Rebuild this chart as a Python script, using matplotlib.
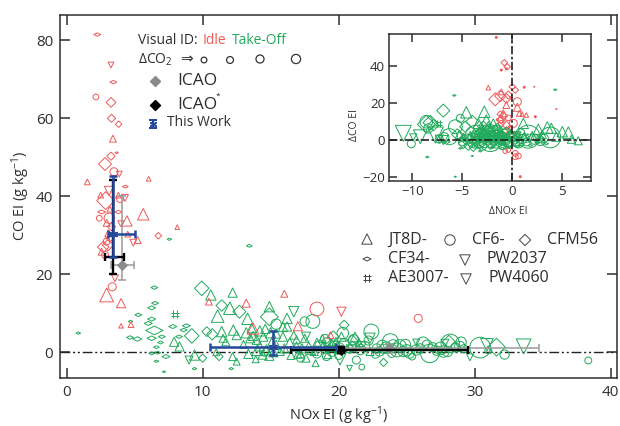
import matplotlib
matplotlib.use("Agg")
import matplotlib.pyplot as plt
from matplotlib.path import Path

plt.rcParams['font.family'] = ['Open Sans', 'DejaVu Sans']
plt.rcParams['mathtext.fontset'] = 'custom'
plt.rcParams['mathtext.rm'] = 'Open Sans'
plt.rcParams['mathtext.default'] = 'rm'

RED = '#ee5a5a'
GREEN = '#22aa5c'
INK = '#2e2e2e'
BLUE = '#25479c'

# -------------------------------
# (1) Main panel, idle (red)
# -------------------------------
red_tri_x = [3.4, 1.52, 6.03, 2.5, 3.8, 5.63, 4.43, 8.13, 3.18, 5.22, 4.49, 2.94, 4.0, 4.0, 4.73, 10.46, 13.2, 16.0, 17.0, 13.7, 19.4, 2.57, 3.06, 2.94]
red_tri_y = [54.8, 43.7, 44.5, 40.3, 40.3, 35.4, 33.7, 32.1, 36.7, 28.8, 30.3, 14.7, 12.6, 6.8, 7.1, 13.0, 12.6, 15.0, 6.7, 6.1, 4.4, 25.8, 30.5, 33.2]
red_tri_d = [6, 5, 4, 5, 5, 10, 9, 4, 5, 6, 5, 12, 8, 4, 5, 6, 7, 6, 8, 10, 6, 6, 6, 6]

red_circ_x = [2.15, 3.48, 2.4, 3.13, 3.92, 3.35, 18.4, 25.85, 2.94, 2.82]
red_circ_y = [65.5, 46.3, 34.4, 34.4, 39.3, 16.8, 11.1, 8.7, 28.4, 25.0]
red_circ_d = [5, 7, 5, 9, 6, 7, 12, 7, 6, 6]

red_dia_x = [3.26, 3.3, 3.82, 2.82, 3.26, 2.87, 6.74, 2.69, 3.04, 3.18, 3.3]
red_dia_y = [64.1, 60.0, 58.5, 48.3, 50.3, 38.9, 29.9, 27.0, 27.5, 29.3, 32.2]
red_dia_d = [6, 5, 4, 8, 5, 11, 4, 7, 7, 5, 5]

red_flat_x = [2.25, 3.43, 4.31, 2.57, 3.8, 3.68]
red_flat_y = [81.5, 69.3, 42.5, 36.0, 36.0, 51.2]
red_flat_d = [6, 6, 5, 7, 6, 3]

red_down_x = [3.26, 3.87, 3.11, 4.29, 3.97, 4.9, 3.55, 20.2]
red_down_y = [73.7, 45.7, 41.4, 39.6, 33.0, 28.1, 19.0, 10.4]
red_down_d = [5, 5, 8, 6, 5, 6, 6, 8]

# -------------------------------
# (2) Main panel, take-off (green)
# -------------------------------
green_tri_x = [10.6, 12.2, 12.0, 11.1, 13.3, 14.9, 16.2, 11.4, 12.25, 12.5, 13.6, 11.5, 13.5, 7.9, 8.3, 9.4, 13.97, 14.46, 15.9, 16.7,
               13.36, 13.9, 14.9, 12.2, 12.5, 15.7, 17.6, 18.3, 16.9, 17.5, 16.2, 15.4, 14.7, 14.2, 18.9, 11.0, 11.7, 20.2, 19.5, 21.2,
               22.3, 15.1, 16.0, 14.0, 13.0, 17.0, 18.0, 19.0, 13.2, 13.7, 14.2, 14.6, 15.0, 15.4, 15.9, 16.4, 16.9, 17.3, 17.8, 18.4,
               18.8, 19.3, 19.8, 14.4, 15.2, 16.5, 17.2, 18.2, 19.2, 20.6, 21.5]
green_tri_y = [14.7, 15.3, 11.3, 9.3, 8.6, 11.7, 8.7, 5.3, 5.7, 4.4, 6.2, 3.6, 3.6, 2.7, 1.5, -0.7, 3.2, 4.0, 4.0, 4.4,
               -0.4, -1.8, -0.9, -1.1, -2.4, 0.2, -1.5, -2.8, 1.5, 3.6, 6.6, 1.9, 0.6, 1.5, 1.9, 0.0, 2.7, 4.0, 2.3, 4.0,
               0.2, 2.5, 1.0, 0.5, 2.0, -0.5, 0.5, 0.8, 5.0, 4.2, 5.5, 6.0, 5.0, 4.8, 6.5, 2.5, 3.2, 1.0, 1.6, 2.6,
               3.5, 1.2, 2.8, -0.6, 0.0, -0.8, -0.4, 0.2, -0.6, 1.0, 2.5]
green_tri_d = [9, 8, 11, 11, 10, 9, 9, 9, 9, 8, 8, 7, 8, 8, 8, 9, 8, 8, 8, 7,
               8, 6, 8, 7, 6, 7, 7, 6, 8, 7, 8, 8, 9, 8, 8, 6, 7, 8, 8, 8,
               7, 9, 8, 9, 7, 7, 7, 7, 9, 8, 9, 8, 9, 8, 8, 8, 7, 8, 7, 7,
               7, 7, 7, 8, 8, 7, 7, 7, 7, 7, 7]

green_circ_x = [15.4, 17.5, 18.1, 19.1, 17.2, 18.4, 19.1, 14.5, 22.4, 23.8, 24.3, 20.3, 21.1, 21.7, 26.2, 26.7, 28.2, 30.4, 32.2, 38.35,
                24.75, 23.0, 25.4, 27.7, 20.0, 21.3, 21.9, 23.5, 25.0, 26.0, 27.2, 28.9, 29.2, 22.7, 19.7, 20.8, 23.3, 24.0, 25.7, 28.6, 31.0,
                18.6, 19.5, 20.4, 21.6, 22.2, 23.2, 24.5, 25.2, 26.5, 27.5, 28.0, 29.0, 22.8, 23.9, 21.0, 19.0, 20.0, 24.9, 26.9]
green_circ_y = [7.2, 7.9, 7.9, 2.7, -1.5, -0.3, -1.1, 0.2, 5.3, 2.7, 0.6, 4.9, 3.2, -3.8, 2.3, -0.3, 2.3, 1.2, -0.6, -2.1,
                0.2, 0.2, -1.1, 0.2, 1.0, -2.0, 1.5, 1.2, 0.5, 1.0, 0.4, 1.5, 0.9, -0.5, 1.5, 0.8, 0.9, 1.9, 0.6, 1.2, 0.5,
                1.8, 0.3, 2.2, 0.7, 3.0, 1.8, 1.6, -0.2, 1.8, 1.0, 0.2, 2.6, 1.0, -0.3, 1.4, 3.4, -0.8, 2.0, 1.3]
green_circ_d = [9, 8, 12, 7, 7, 8, 7, 8, 13, 14, 12, 10, 9, 5, 11, 16, 16, 18, 8, 6,
                9, 8, 6, 10, 10, 7, 9, 10, 10, 8, 8, 9, 7, 7, 9, 7, 8, 9, 9, 8, 6,
                8, 9, 9, 9, 8, 9, 11, 9, 9, 11, 9, 9, 8, 7, 8, 8, 7, 9, 8]

green_dia_x = [9.93, 11.4, 12.7, 9.2, 10.7, 14.9, 10.3, 10.0, 11.2, 31.6, 20.4, 23.3, 28.1, 28.55, 19.6, 21.0, 24.0]
green_dia_y = [16.4, 12.0, 10.4, 4.2, 4.6, 9.1, 5.3, -1.5, -1.1, 1.3, 7.0, -2.6, 2.7, 1.5, 4.0, 3.0, 1.0]
green_dia_d = [9, 7, 8, 9, 7, 11, 6, 5, 5, 11, 6, 5, 8, 6, 7, 7, 6]

green_flat_x = [0.86, 13.43, 6.45, 6.5, 6.25, 5.27, 6.25, 6.0, 6.45, 4.66, 5.2, 6.25, 7.0, 6.9, 6.6, 6.25, 6.7, 7.3, 6.6, 7.16,
                7.8, 8.6, 8.8, 8.26, 9.4, 12.1, 4.7, 7.55]
green_flat_y = [4.9, 27.3, 16.6, 12.6, 11.4, 9.6, 8.5, 7.4, 5.6, 3.8, 3.4, 3.6, 4.0, 2.5, 1.3, -0.3, -0.1, -1.1, -2.3, -5.0,
                6.6, 5.7, 6.8, 4.0, -4.2, -4.2, 7.9, 29.0]
green_flat_d = [4, 5, 6, 6, 7, 6, 7, 7, 15, 6, 8, 8, 6, 5, 5, 5, 5, 7, 4, 3,
                7, 6, 7, 6, 4, 4, 4, 4]

green_down_x = [16.7, 9.0, 17.6, 33.6, 30.9, 20.1, 20.8, 22.3, 25.7, 29.65, 27.8, 21.7]
green_down_y = [10.4, -2.0, 4.0, 1.5, 1.9, -1.8, -4.1, 3.6, 2.5, -1.3, 2.3, 1.5]
green_down_d = [9, 7, 8, 13, 11, 10, 5, 9, 6, 6, 7, 8]

green_hash_x = [7.97]
green_hash_y = [9.7]
green_hash_d = [7]

# -------------------------------
# (3) Inset, differences
# -------------------------------
dgreen_tri_x = [-4.6, -2.8, -3.4, -2.6, 1.1, 2.6, 3.5, 3.9, 5.0, 5.6, 5.9, 6.6, -1.9, 2.8, 4.4, -3.0, -2.2, -1.5, -1.0, -0.4, 0.3, 1.5, 2.0, 3.0, -3.8, -2.4,
                -4.2, -3.6, -3.1, -2.7, -2.1, -1.7, -1.2, -0.7, -0.2, 0.6, 1.2, -4.9, -5.3, -3.3]
dgreen_tri_y = [15.0, 15.3, 9.0, 10.8, 9.0, 5.8, 6.8, 6.3, 4.5, 4.0, 0.4, -0.4, 9.0, 1.0, 1.8, 6.0, 5.0, 4.0, 3.0, 2.0, 1.5, 1.0, 2.5, 3.0, 4.0, 7.5,
                2.5, 1.0, 3.5, 2.0, 3.0, 1.5, 5.0, 1.0, 3.5, 3.0, 2.0, 1.5, 3.0, 5.0]
dgreen_tri_d = [10, 10, 9, 9, 9, 9, 10, 9, 9, 10, 7, 7, 8, 8, 8, 8, 8, 8, 7, 7, 7, 7, 7, 7, 7, 8,
                7, 8, 8, 8, 8, 8, 7, 7, 7, 7, 7, 7, 7, 7]

dgreen_circ_x = [-10.1, -8.6, -8.4, -6.3, -5.7, -2.2, -3.6, 1.6, 3.8, -5.2, 0.8, -0.2, -4.5, -4.0, -3.2, -2.8, -2.4, -2.0, -1.6, -1.2, -0.8, -0.4, 0.2, 0.6, 1.0, 1.4, 2.2, 2.8, 3.2, -3.0, -2.6, -1.8, -1.4, -1.0, -5.0, -6.8, -7.3,
                 -3.9, -3.4, -2.9, -2.5, -2.1, -1.7, -1.3, -0.9, -0.5, -0.1, 0.4, -3.7, -3.1, -2.3, -1.9, -1.5, -1.1, -0.6, -2.7, -2.2, -1.6, -3.3, -0.3]
dgreen_circ_y = [-2.0, 9.9, 6.3, 1.8, 7.2, 0.0, 1.8, 1.8, 1.4, 11.7, 3.6, 0.0, 0.5, -1.5, 3.0, -1.0, 3.5, 1.5, -1.5, 1.0, 3.0, -2.0, 1.0, -1.5, 0.5, -1.0, 0.5, -0.5, 1.0, -3.0, 5.0, 4.5, 3.0, -3.0, -1.0, 1.5, 0.5,
                 1.0, -0.5, 1.5, 0.5, -1.0, 2.5, -0.5, 0.5, -1.0, 2.0, -0.5, 2.5, 4.0, 2.0, 0.0, 1.0, 2.0, 0.0, 3.0, 6.0, 5.5, -2.0, -1.5]
dgreen_circ_d = [7, 11, 8, 14, 12, 20, 20, 20, 18, 7, 8, 12, 9, 8, 10, 10, 12, 10, 9, 11, 9, 8, 10, 9, 8, 7, 9, 8, 7, 8, 9, 10, 8, 7, 7, 8, 7,
                 9, 9, 10, 9, 10, 9, 9, 10, 9, 9, 9, 8, 8, 9, 9, 9, 9, 8, 9, 8, 8, 8, 8]

dgreen_dia_x = [-6.9, -8.2, -4.0, -4.7, -2.9, -8.6, -7.9, -3.5, -4.4, -1.5, -0.6, 0.5, -2.2, -5.5, -4.9, -3.9]
dgreen_dia_y = [15.9, 9.4, 9.9, 7.2, 7.2, 8.5, 8.0, 2.5, -3.0, 6.0, 4.5, 1.5, -2.0, 3.0, -2.0, -4.0]
dgreen_dia_d = [8, 9, 8, 7, 7, 11, 7, 7, 6, 7, 6, 6, 7, 7, 6, 5]

dgreen_flat_x = [-5.8, -8.5, -5.7, 4.3, -4.0, -5.2, -3.2, -2.0, -1.0, 0.5, 1.8, -6.5, -4.8, -3.7, -2.8, -1.8, -0.6, 0.9, 2.5, 3.4]
dgreen_flat_y = [24.1, -9.2, -19.8, 27.2, -8.6, -4.5, -6.0, -4.0, -4.5, -3.5, -3.0, -1.0, 1.0, -2.5, 2.0, -2.0, -3.0, -2.5, -1.5, -2.0]
dgreen_flat_d = [3, 3, 2, 3, 2, 3, 3, 4, 4, 4, 4, 5, 5, 5, 5, 5, 5, 5, 4, 4]

dgreen_down_x = [-10.9, -9.2, -9.9, -7.7, -7.3, -6.9, -2.5, -1.3, 0.4, 1.7, -4.3, -3.3, 2.4]
dgreen_down_y = [3.6, 1.8, 1.5, 2.7, 0.5, 0.0, 1.0, 0.0, 2.0, 1.0, 0.5, -0.5, 0.0]
dgreen_down_d = [14, 12, 6, 14, 7, 8, 8, 8, 8, 7, 7, 7, 7]

dgreen_hash_x = [-7.4]
dgreen_hash_y = [9.0]
dgreen_hash_d = [6]

dred_tri_x = [-2.4, 0.5, 0.7, 1.0, 1.4, -0.9, -0.6, -1.1, -0.3]
dred_tri_y = [28.3, 17.7, 14.4, 13.9, 13.5, 14.4, 18.9, 26.0, 5.0]
dred_tri_d = [4, 7, 5, 4, 4, 6, 6, 5, 6]

dred_circ_x = [0.5, 0.1, -1.2, -0.4, -1.1, 0.3, 0.6, 0.3, -0.7, -0.4]
dred_circ_y = [20.7, 9.0, 10.8, 12.0, 9.0, -7.2, -8.6, -9.0, -6.0, -5.4]
dred_circ_d = [7, 7, 5, 5, 5, 5, 5, 5, 4, 4]

dred_dia_x = [-1.7, -1.2, -0.6, -0.4, 0.0, 0.3, -0.8, -0.5, -0.9, -1.1, -0.6, -0.3, -1.2]
dred_dia_y = [22.0, 23.8, 22.5, 24.3, 28.8, 27.0, 41.8, 39.6, 13.0, 11.0, 8.0, 6.0, 14.0]
dred_dia_d = [8, 7, 6, 5, 4, 4, 4, 4, 5, 5, 5, 4, 4]

dred_dot_x = [-1.6, -1.1, -0.6, 1.2, 2.2, 4.4, 0.8, 2.3, -1.5, 0.2]
dred_dot_y = [55.5, 37.8, 38.5, 28.5, 28.8, 16.8, -19.8, 12.6, 11.0, 4.0]
dred_dot_d = [3, 3, 3, 3, 2, 2, 3, 3, 3, 3]

# -------------------------------
# (4) Error bars: x, y, xlo, xhi, ylo, yhi
# -------------------------------
icao_x = [4.07, 23.7]
icao_y = [22.4, 1.2]
icao_xlo = [3.26, 16.0]
icao_xhi = [4.97, 34.7]
icao_ylo = [18.5, 0.2]
icao_yhi = [40.0, 2.2]

icao2_x = [3.43, 20.15]
icao2_y = [24.4, 0.6]
icao2_xlo = [2.82, 16.5]
icao2_xhi = [4.24, 29.5]
icao2_ylo = [20.0, -0.2]
icao2_yhi = [44.2, 1.4]

work_x = [3.43, 15.14]
work_y = [30.3, 1.4]
work_xlo = [3.06, 10.54]
work_xhi = [5.02, 19.8]
work_ylo = [24.4, -0.7]
work_yhi = [45.2, 5.5]

x_ticks = [0, 10, 20, 30, 40]
y_ticks = [0, 20, 40, 60, 80]
inset_x_ticks = [-10, -5, 0, 5]
inset_y_ticks = [-20, 0, 20, 40]

# marker shapes
FLAT = Path([(-1, 0), (0, 0.5), (1, 0), (0, -0.5), (-1, 0)], closed=True)
HASH = Path([(-0.4, -1), (-0.4, 1), (0.4, -1), (0.4, 1), (-1, -0.4), (1, -0.4), (-1, 0.4), (1, 0.4)],
            [Path.MOVETO, Path.LINETO] * 4)


def pts(ax, x, y, d, marker, color, lw=0.7, z=3):
    # d is the marker width in pixels, 1.15 fudge to match the reference
    s = [(v * 0.72 * 1.15) ** 2 for v in d]
    ax.scatter(x, y, s=s, marker=marker, facecolors='none', edgecolors=color, linewidths=lw, zorder=z)


def bars(ax, x, y, xlo, xhi, ylo, yhi, color, lw, cap, z):
    for i in range(len(x)):
        ax.errorbar(x[i], y[i], xerr=[[x[i] - xlo[i]], [xhi[i] - x[i]]], yerr=[[y[i] - ylo[i]], [yhi[i] - y[i]]],
                    color=color, elinewidth=lw, capsize=cap, capthick=lw, zorder=z)


def frame(ax, tick_len, tick_size):
    for s in ax.spines.values():
        s.set_linewidth(1.1)
        s.set_color(INK)
    ax.tick_params(direction='in', length=tick_len, width=1.1, color=INK, top=True, right=True,
                   labelsize=tick_size, labelcolor=INK, pad=5)


fig = plt.figure(figsize=(6.2, 4.26), dpi=100)
W, H = 620.0, 426.0


def box(l, t, r, b):
    return [l / W, 1 - b / H, (r - l) / W, (b - t) / H]


# main axes
ax = fig.add_axes(box(60, 14.7, 616.7, 378))
ax.set_xlim(-0.49, 40.44)
ax.set_ylim(-6.6, 86.6)
ax.set_xticks(x_ticks)
ax.set_yticks(y_ticks)
frame(ax, 7.5, 11)
ax.set_xlabel('NOx EI (g kg$^{-1}$)', fontsize=10.5, color=INK, labelpad=3)
ax.set_ylabel('CO EI (g kg$^{-1}$)', fontsize=10.5, color=INK, labelpad=3)
ax.axhline(0, color='#222222', lw=1, ls=(0, (7, 2, 1.5, 2, 1.5, 2)), zorder=2)

pts(ax, green_flat_x, green_flat_y, green_flat_d, FLAT, GREEN)
pts(ax, green_tri_x, green_tri_y, green_tri_d, '^', GREEN)
pts(ax, green_circ_x, green_circ_y, green_circ_d, 'o', GREEN)
pts(ax, green_dia_x, green_dia_y, green_dia_d, 'D', GREEN)
pts(ax, green_down_x, green_down_y, green_down_d, 'v', GREEN)
pts(ax, green_hash_x, green_hash_y, green_hash_d, HASH, GREEN)
pts(ax, red_flat_x, red_flat_y, red_flat_d, FLAT, RED)
pts(ax, red_tri_x, red_tri_y, red_tri_d, '^', RED)
pts(ax, red_circ_x, red_circ_y, red_circ_d, 'o', RED)
pts(ax, red_dia_x, red_dia_y, red_dia_d, 'D', RED)
pts(ax, red_down_x, red_down_y, red_down_d, 'v', RED)

bars(ax, icao_x, icao_y, icao_xlo, icao_xhi, icao_ylo, icao_yhi, '#9a9a9a', 1.1, 3, 5)
ax.scatter(icao_x, icao_y, s=22, marker='D', color='#8a8a8a', zorder=5)
bars(ax, icao2_x, icao2_y, icao2_xlo, icao2_xhi, icao2_ylo, icao2_yhi, 'black', 1.7, 3, 6)
ax.scatter(icao2_x[1:], icao2_y[1:], s=22, marker='D', color='black', zorder=6)
bars(ax, work_x, work_y, work_xlo, work_xhi, work_ylo, work_yhi, BLUE, 1.8, 3, 7)
ax.scatter(work_x, work_y, s=34, marker=(6, 2, 0), color=BLUE, linewidths=1, zorder=7)

# inset
ins = fig.add_axes(box(389.3, 34, 591, 181.3))
ins.set_xlim(-12.3, 7.87)
ins.set_ylim(-22.3, 57.3)
ins.set_xticks(inset_x_ticks)
ins.set_yticks(inset_y_ticks)
frame(ins, 5.5, 9.5)
ins.tick_params(pad=3)
ins.set_xlabel('ΔNOx EI', fontsize=7.5, color=INK)
ins.set_ylabel('ΔCO EI', fontsize=7.5, color=INK)
ins.xaxis.set_label_coords(0.59, -0.17)
ins.yaxis.set_label_coords(-0.145, 0.38)
ins.axhline(0, color='#222222', lw=1.2, ls=(0, (5, 1.5, 1.5, 1.5)), zorder=5)
ins.axvline(0, color='#222222', lw=1.2, ls=(0, (5, 1.5, 1.5, 1.5)), zorder=5)

pts(ins, dred_tri_x, dred_tri_y, dred_tri_d, '^', RED, z=3)
pts(ins, dred_circ_x, dred_circ_y, dred_circ_d, 'o', RED, z=3)
pts(ins, dred_dia_x, dred_dia_y, dred_dia_d, 'D', RED, z=3)
ins.scatter(dred_dot_x, dred_dot_y, s=[(v * 0.72) ** 2 for v in dred_dot_d], color=RED, linewidths=0, zorder=3)
pts(ins, dgreen_flat_x, dgreen_flat_y, dgreen_flat_d, FLAT, GREEN, z=4)
pts(ins, dgreen_tri_x, dgreen_tri_y, dgreen_tri_d, '^', GREEN, z=4)
pts(ins, dgreen_circ_x, dgreen_circ_y, dgreen_circ_d, 'o', GREEN, z=4)
pts(ins, dgreen_dia_x, dgreen_dia_y, dgreen_dia_d, 'D', GREEN, z=4)
pts(ins, dgreen_down_x, dgreen_down_y, dgreen_down_d, 'v', GREEN, z=4)
pts(ins, dgreen_hash_x, dgreen_hash_y, dgreen_hash_d, HASH, GREEN, z=4)

# -------------------------------
# (5) Keys, placed in figure pixels
# -------------------------------
key = fig.add_axes([0, 0, 1, 1], facecolor='none')
key.set_xlim(0, W)
key.set_ylim(H, 0)
key.axis('off')


def label(x, y, s, size=11.5, color=INK, **kw):
    return key.text(x, y, s, fontsize=size, color=color, va='center', **kw)


label(138, 41, 'Visual ID:', 10)
label(203, 41, 'Idle', 10, RED)
label(232, 41, 'Take-Off', 10, GREEN)
label(138, 60, 'ΔCO$_2$', 10)
label(180, 60, '⇒', 11)
pts(key, [204, 230, 260, 296], [60, 60, 59, 59], [5, 6, 7, 8], 'o', '#333333', lw=0.9)

key.scatter([155], [81], s=26, marker='D', color='#8a8a8a')
label(177, 81, 'ICAO', 12.5)
key.scatter([155], [105], s=26, marker='D', color='black')
label(177, 105, 'ICAO', 12.5)
label(216, 96, '*', 6)
key.errorbar([153], [124], yerr=[[4], [4]], color=BLUE, elinewidth=1.5, capsize=3, capthick=1.5)
key.scatter([153], [124], s=20, marker=(6, 2, 0), color=BLUE, linewidths=1)
label(167, 123, 'This Work', 10)

pts(key, [367], [239], [9], '^', '#444444')
label(388, 240, 'JT8D-')
pts(key, [450], [240], [9], 'o', '#444444')
label(472, 240, 'CF6-')
pts(key, [525], [240], [7], 'D', '#444444')
label(547, 240, 'CFM56')
pts(key, [367], [259], [7], FLAT, '#444444')
label(388, 259, 'CF34-')
pts(key, [465], [260], [9], 'v', '#444444')
label(487, 259, 'PW2037')
pts(key, [367], [278], [7], HASH, '#444444')
label(388, 278, 'AE3007-')
pts(key, [466], [279], [9], 'v', '#444444')
label(488, 278, 'PW4060')

fig.savefig('out.png', dpi=100)
